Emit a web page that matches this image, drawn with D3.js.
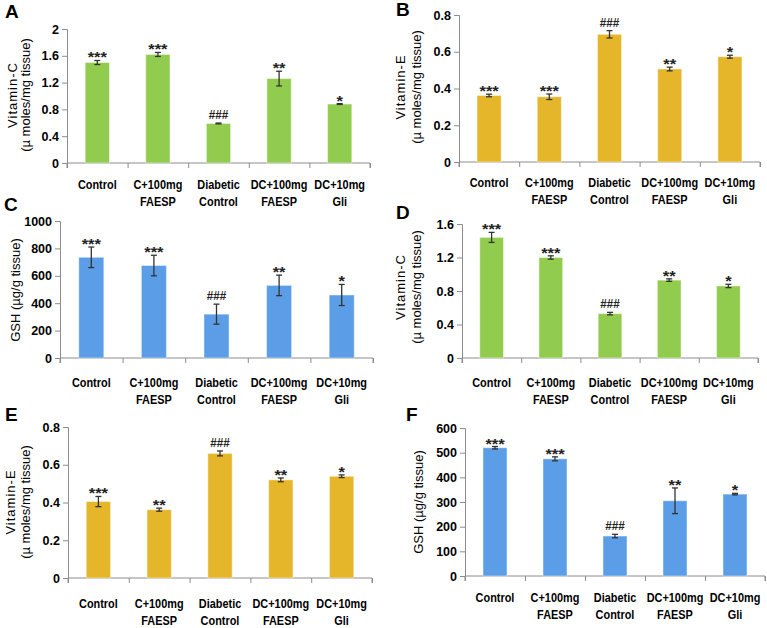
<!DOCTYPE html>
<html>
<head>
<meta charset="utf-8">
<script src="https://cdn.jsdelivr.net/npm/d3@7"></script>
<style>
  body { margin:0; background:#fff; }
  svg { display:block; }
  .tick text { font-family: "Liberation Sans", Arial, sans-serif; font-weight:bold; font-size:12.5px; fill:#000; }
</style>
</head>
<body>
<svg id="chart" width="767" height="628"></svg>
<script>
// ---------- data ----------
const categories = [["Control"], ["C+100mg","FAESP"], ["Diabetic","Control"], ["DC+100mg","FAESP"], ["DC+10mg","Gli"]];

const vitC_A = [1.50, 1.62, 0.59, 1.26, 0.88];
const vitC_A_err = [0.03, 0.03, 0.006, 0.11, 0.006];
const vitE_B = [0.362, 0.355, 0.695, 0.506, 0.573];
const vitE_B_err = [0.007, 0.015, 0.02, 0.01, 0.008];
const gsh_C = [735, 675, 320, 530, 460];
const gsh_C_err = [75, 75, 73, 75, 77];
const vitC_D = [1.44, 1.20, 0.53, 0.93, 0.86];
const vitC_D_err = [0.06, 0.02, 0.015, 0.015, 0.02];
const vitE_E = [0.405, 0.362, 0.660, 0.520, 0.539];
const vitE_E_err = [0.027, 0.008, 0.013, 0.01, 0.007];
const gsh_F = [520, 475, 162, 305, 332];
const gsh_F_err = [5, 8, 7, 52, 3];

const sig_A = ["***","***","###","**","*"];
const sig_B = ["***","***","###","**","*"];
const sig_C = ["***","***","###","**","*"];
const sig_D = ["***","***","###","**","*"];
const sig_E = ["***","**","###","**","*"];
const sig_F = ["***","***","###","**","*"];

const ticks_A = [0, 0.4, 0.8, 1.2, 1.6, 2];
const ticks_B = [0, 0.2, 0.4, 0.6, 0.8];
const ticks_C = [0, 200, 400, 600, 800, 1000];
const ticks_D = [0, 0.4, 0.8, 1.2, 1.6];
const ticks_E = [0, 0.2, 0.4, 0.6, 0.8];
const ticks_F = [0, 100, 200, 300, 400, 500, 600];

const titleVitC = ["Vitamin-C", "(\u00b5 moles/mg tissue)"];
const titleVitE = ["Vitamin-E", "(\u00b5 moles/mg tissue)"];
const titleGSH = ["GSH (\u00b5g/g tissue)"];

const colGreen = "#92cc4e", colGold = "#e5b62a", colBlue = "#5b9de6";

// ---------- layout ----------
const panels = [
  {letter:"A", lx:5, ly:18, vals:vitC_A, errs:vitC_A_err, sig:sig_A, ticks:ticks_A, title:titleVitC, color:colGreen,
   x0:67, x1:370, y0:163, yTop:29, labY:189, tx:[17,30], ty:95},
  {letter:"B", lx:396, ly:16, vals:vitE_B, errs:vitE_B_err, sig:sig_B, ticks:ticks_B, title:titleVitE, color:colGold,
   x0:459, x1:760, y0:162, yTop:15, labY:187, tx:[405,421], ty:87},
  {letter:"C", lx:4, ly:211, vals:gsh_C, errs:gsh_C_err, sig:sig_C, ticks:ticks_C, title:titleGSH, color:colBlue,
   x0:60, x1:373, y0:358, yTop:221, labY:387, tx:[20], ty:290},
  {letter:"D", lx:396, ly:219, vals:vitC_D, errs:vitC_D_err, sig:sig_D, ticks:ticks_D, title:titleVitC, color:colGreen,
   x0:462, x1:758, y0:358, yTop:224, labY:387, tx:[405,421], ty:287},
  {letter:"E", lx:5, ly:421, vals:vitE_E, errs:vitE_E_err, sig:sig_E, ticks:ticks_E, title:titleVitE, color:colGold,
   x0:68, x1:372, y0:578, yTop:427, labY:608, tx:[15,30], ty:502},
  {letter:"F", lx:406, ly:421, vals:gsh_F, errs:gsh_F_err, sig:sig_F, ticks:ticks_F, title:titleGSH, color:colBlue,
   x0:465, x1:765, y0:576, yTop:428, labY:602, tx:[423], ty:502}
];

const svg = d3.select("#chart");
const axisCol = "#8c8c8c";
const baseFont = "'Liberation Sans', Arial, sans-serif";

panels.forEach(p => {
  const g = svg.append("g");
  const maxV = p.ticks[p.ticks.length - 1];
  const y = d3.scaleLinear().domain([0, maxV]).range([p.y0, p.yTop]);
  const x = d3.scaleBand().domain(d3.range(categories.length)).range([p.x0, p.x1])
              .paddingInner(0.6).paddingOuter(0.3);
  const xb = d3.scaleLinear().domain([0, categories.length]).range([p.x0, p.x1]);
  const cx = i => x(i) + x.bandwidth() / 2;

  // panel letter
  g.append("text").attr("x", p.lx).attr("y", p.ly).text(p.letter)
    .attr("font-family", baseFont).attr("font-weight", "bold")
    .attr("font-size", 19).attr("fill", "#000");

  // y axis
  const ya = g.append("g").attr("transform", `translate(${p.x0},0)`)
    .call(d3.axisLeft(y).tickValues(p.ticks).tickSize(5).tickPadding(3).tickFormat(d3.format("~g")));
  ya.selectAll("path,line").attr("stroke", axisCol);

  // x axis (boundary ticks)
  const xa = g.append("g").attr("transform", `translate(0,${p.y0})`)
    .call(d3.axisBottom(xb).tickValues(d3.range(categories.length + 1)).tickSize(5).tickFormat(""));
  xa.selectAll("path,line").attr("stroke", axisCol);
  xa.select("path").attr("d", `M${p.x0},5V0H${p.x1}V5`);

  // bars
  g.selectAll("rect.bar").data(p.vals).enter().append("rect")
    .attr("x", (d, i) => x(i)).attr("width", x.bandwidth())
    .attr("y", d => y(d)).attr("height", d => p.y0 - y(d))
    .attr("fill", p.color).attr("stroke", "rgba(255,255,255,0.45)").attr("stroke-width", 1);

  // error bars
  const eb = g.selectAll("g.err").data(p.vals).enter().append("g");
  eb.append("line")
    .attr("x1", (d, i) => cx(i)).attr("x2", (d, i) => cx(i))
    .attr("y1", (d, i) => y(d + p.errs[i])).attr("y2", (d, i) => y(d - p.errs[i]))
    .attr("stroke", "#333").attr("stroke-width", 1.3);
  [1, -1].forEach(s => {
    eb.append("line")
      .attr("x1", (d, i) => cx(i) - 3).attr("x2", (d, i) => cx(i) + 3)
      .attr("y1", (d, i) => y(d + s * p.errs[i])).attr("y2", (d, i) => y(d + s * p.errs[i]))
      .attr("stroke", "#333").attr("stroke-width", 1.3);
  });

  // significance labels
  g.selectAll("text.sig").data(p.vals).enter().append("text")
    .attr("transform", (d, i) => {
      const isHash = p.sig[i] === "###";
      const yy = y(d + p.errs[i]) - (isHash ? 4 : -2);
      return `translate(${cx(i)},${yy}) scale(${isHash ? 0.9 : 1.1},1)`;
    })
    .attr("text-anchor", "middle")
    .attr("font-family", baseFont).attr("font-weight", "bold")
    .attr("font-size", (d, i) => p.sig[i] === "###" ? 13 : 15)
    .attr("fill", "#222")
    .text((d, i) => p.sig[i]);

  // category labels (condensed)
  categories.forEach((c, i) => {
    c.forEach((line, k) => {
      g.append("text").attr("transform", `translate(${cx(i)},${p.labY + k * 17}) scale(0.84,1)`)
        .attr("text-anchor", "middle").attr("font-family", baseFont).attr("font-weight", "bold")
        .attr("font-size", 13).attr("fill", "#000").text(line);
    });
  });

  // y title
  p.title.forEach((line, k) => {
    g.append("text").attr("transform", `translate(${p.tx[k]},${p.ty}) rotate(-90)`)
      .attr("text-anchor", "middle").attr("font-family", baseFont)
      .attr("font-size", 13).attr("fill", "#000")
      .attr("letter-spacing", line.startsWith("Vitamin") ? 1.0 : 0)
      .text(line);
  });
});
</script>
</body>
</html>
